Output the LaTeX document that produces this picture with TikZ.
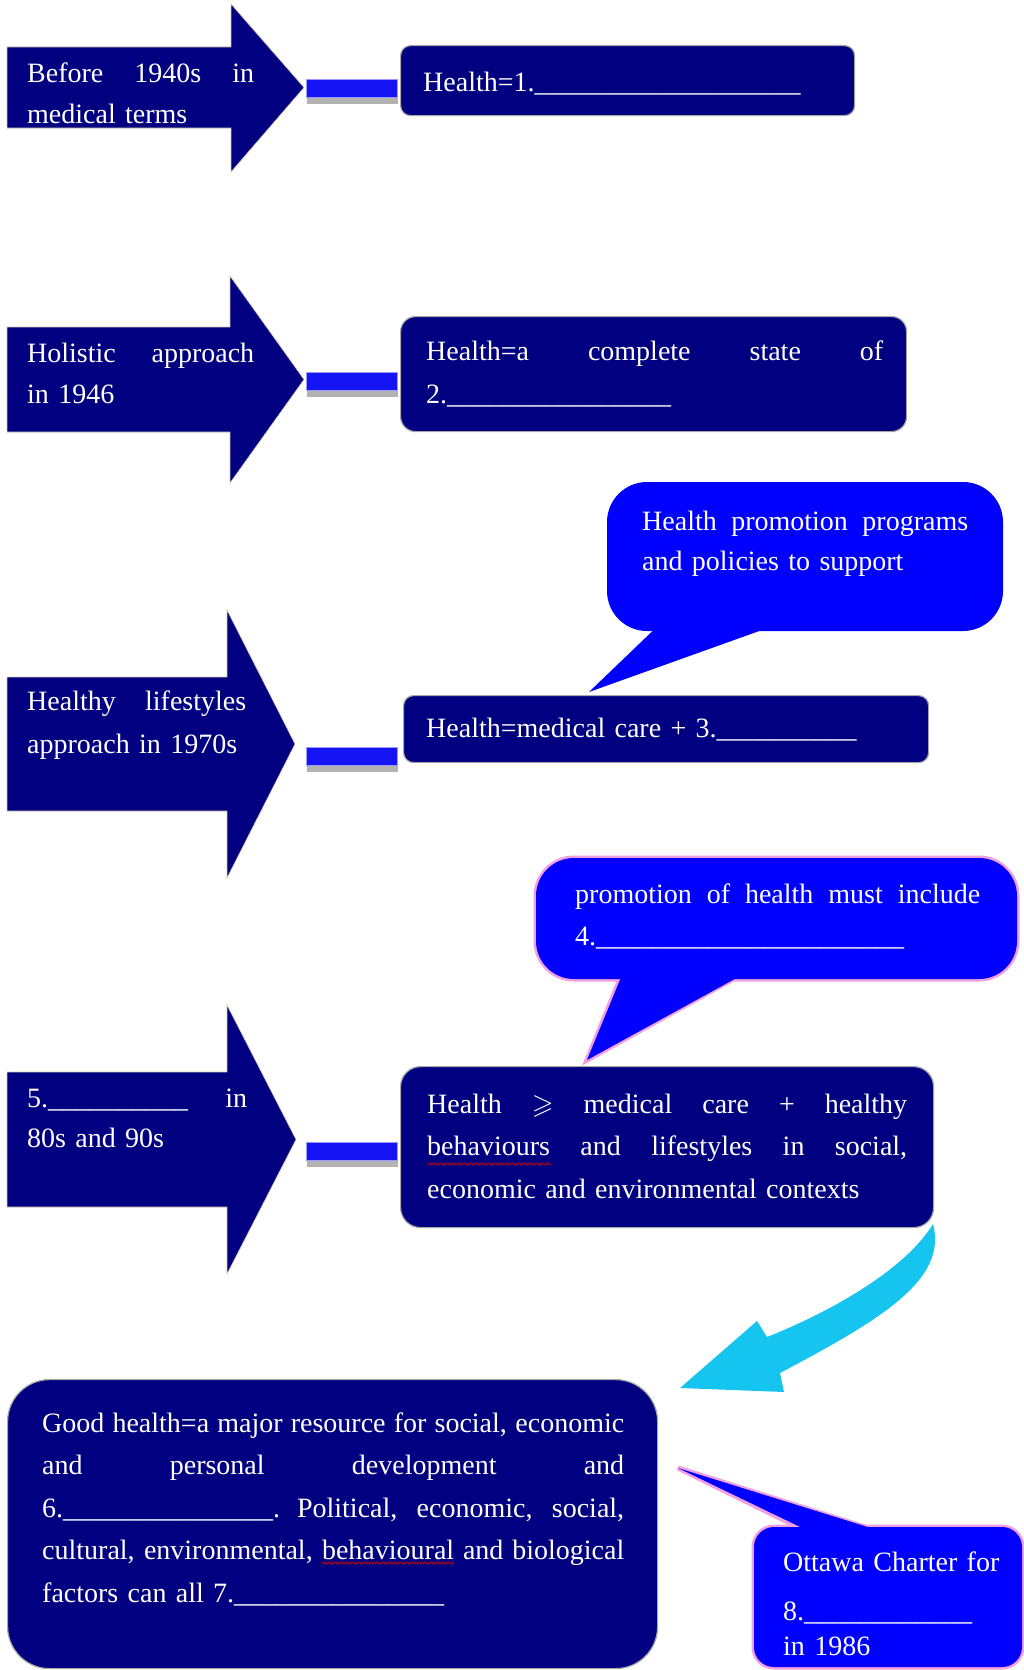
\documentclass[tikz,border=0pt]{standalone}
\usepackage{fontspec}
\setmainfont{Liberation Serif}
\usepackage{amssymb}
\usetikzlibrary{shadows,decorations.pathmorphing}
\definecolor{navy}{RGB}{0,0,128}
\definecolor{barblue}{RGB}{20,20,245}
\definecolor{callblue}{RGB}{0,0,255}
\definecolor{pinkline}{RGB}{240,160,225}
\definecolor{cyanarrow}{RGB}{22,196,240}
\definecolor{arrowedge}{RGB}{215,200,170}
\newcommand\blanks[1]{\foreach \k in {1,...,#1}{\textunderscore}}
\newcommand\jline[2]{\makebox[#1][s]{\spaceskip=.25em plus 20em\relax\xspaceskip=.25em plus 20em\relax #2}}
\begin{document}
\begin{tikzpicture}[x=1pt,y=-1pt,
  txt/.style={text=white, inner sep=0pt, anchor=base west, align=left,
    font=\fontsize{28}{41}\selectfont},
  blockarrow/.style={fill=navy, draw=arrowedge, line width=0.6pt},
  box/.style={fill=navy, draw=gray!70, line width=1.2pt, anchor=north west, inner sep=0pt},
  bar/.style={fill=barblue, draw=blue!40, line width=0.5pt, anchor=west, inner sep=0pt,
    minimum width=91pt, minimum height=18pt,
    drop shadow={shadow xshift=1pt, shadow yshift=-7pt, fill=gray!60, opacity=1}},
  callbody/.style={fill=callblue, anchor=north west, inner sep=0pt, outer sep=0pt},
  pinkborder/.style={draw=pinkline, line width=5pt},
  wavy/.style={draw=red!80!black, line width=0.6pt, decorate,
    decoration={zigzag, amplitude=1.2pt, segment length=3pt}}
]
\useasboundingbox (0,0) rectangle (1024,1670);

% ---------- block arrows ----------
\path[blockarrow] (7,47) -- (231,47) -- (231,4) -- (304,87.5) -- (231,172) -- (231,128) -- (7,128) -- cycle;
\path[blockarrow] (7,327) -- (230,327) -- (230,276) -- (304,379.5) -- (230,483) -- (230,432) -- (7,432) -- cycle;
\path[blockarrow] (7,677) -- (227,677) -- (227,610) -- (295,744) -- (227,878) -- (227,811) -- (7,811) -- cycle;
\path[blockarrow] (7,1072) -- (227,1072) -- (227,1005) -- (296,1139.5) -- (227,1274) -- (227,1207) -- (7,1207) -- cycle;

% ---------- boxes ----------
\node[box, rounded corners=10pt, minimum width=454pt, minimum height=70pt] (box1) at (400,45) {};
\node[box, rounded corners=15pt, minimum width=506pt, minimum height=115pt] (box2) at (400,316) {};
\node[box, rounded corners=10pt, minimum width=525pt, minimum height=67pt] (box3) at (403,695) {};
\node[box, rounded corners=20pt, minimum width=533pt, minimum height=161pt] (box4) at (400,1066) {};
\node[box, rounded corners=42pt, minimum width=650pt, minimum height=289pt] (box5) at (7,1379) {};

% ---------- bars (arrow -> box) ----------
\node[bar] (bar1) at (306,88) {};
\node[bar] (bar2) at (306,381) {};
\node[bar] (bar3) at (306,756) {};
\node[bar] (bar4) at (306,1151) {};

% ---------- callout 1 ----------
\node[callbody, rounded corners=40pt, minimum width=396pt, minimum height=149pt] (call1) at (607,482) {};
\coordinate (c1tip) at (589,692);
\fill[callblue] (664,620) -- (c1tip) -- (790,620) -- cycle;

% ---------- callout 2 ----------
\node[callbody, pinkborder, rounded corners=38pt, minimum width=481pt, minimum height=121pt] (call2) at (536,858) {};
\coordinate (c2tip) at (587,1060);
\path[fill=callblue, pinkborder] (620,979) -- (c2tip) -- (733,979);
\fill[callblue, rounded corners=38pt] (call2.north west) rectangle (call2.south east);
\fill[callblue] (624,970) -- (c2tip) -- (751,970) -- cycle;

% ---------- callout 3 ----------
\node[callbody, pinkborder, rounded corners=20pt, minimum width=268pt, minimum height=140pt] (call3) at (754,1527) {};
\coordinate (c3tip) at (678,1468);
\path[fill=callblue, pinkborder] (800,1528) -- (c3tip) -- (868,1528);
\fill[callblue, rounded corners=20pt] (call3.north west) rectangle (call3.south east);
\fill[callblue] (821,1537) -- (c3tip) -- (900,1537) -- cycle;

% ---------- curved cyan arrow ----------
\fill[cyanarrow] (680,1388) -- (757,1321) -- (767,1337)
  .. controls (830,1312) and (905,1270) .. (933,1224)
  .. controls (948,1280) and (880,1320) .. (780,1373)
  -- (784,1392) -- cycle;

% ---------- texts ----------
\node[txt, text width=227pt] (ta1) at (27,82) {\jline{227pt}{Before 1940s in}\\medical terms};
\node[txt, text width=227pt] (ta2) at (27,362) {\jline{227pt}{Holistic approach}\\in 1946};
\node[txt, text width=219pt, font=\fontsize{28}{43}\selectfont] (ta3) at (27,710) {\jline{219pt}{Healthy lifestyles}\\approach in 1970s};
\node[txt, text width=220pt, font=\fontsize{28}{40}\selectfont] (ta4) at (27,1107) {\jline{220pt}{5.\blanks{10} in}\\80s and 90s};

\node[txt, text width=400pt] (tb1) at (423,92) {Health=1.\blanks{19}};
\node[txt, text width=457pt, font=\fontsize{28}{43}\selectfont] (tb2) at (426,360) {\jline{457pt}{Health=a complete state of}\\2.\blanks{16}};
\node[txt, text width=480pt] (tb3) at (426,737) {Health=medical care + 3.\blanks{10}};
\node[txt, text width=480pt, font=\fontsize{28}{42.5}\selectfont] (tb4) at (427,1113)
  {\jline{480pt}{Health \(\geqslant\) medical care + healthy}\\
   \jline{480pt}{behaviours and lifestyles in social,}\\
   economic and environmental contexts};
\node[txt, text width=582pt, font=\fontsize{28}{42.5}\selectfont] (tb5) at (42,1432)
  {\jline{582pt}{Good health=a major resource for social, economic}\\
   \jline{582pt}{and personal development and}\\
   \jline{582pt}{6.\blanks{15}. Political, economic, social,}\\
   \jline{582pt}{cultural, environmental, behavioural and biological}\\
   factors can all 7.\blanks{15}};

\node[txt, text width=326pt, font=\fontsize{28}{40}\selectfont] (tc1) at (642,530)
  {\jline{326pt}{Health promotion programs}\\and policies to support};
\node[txt, text width=405pt, font=\fontsize{28}{42}\selectfont] (tc2) at (575,903)
  {\jline{405pt}{promotion of health must include}\\4.\blanks{22}};
\node[txt, text width=230pt, font=\fontsize{28}{40}\selectfont] (tc3) at (783,1571)
  {Ottawa Charter for\\[9pt]8.\blanks{12}\\[-5pt]in 1986};

% ---------- spell-check marks ----------
\draw[wavy] (428,1164) -- (551,1164);
\draw[wavy] (322,1563) -- (454,1563);

\end{tikzpicture}
\end{document}
